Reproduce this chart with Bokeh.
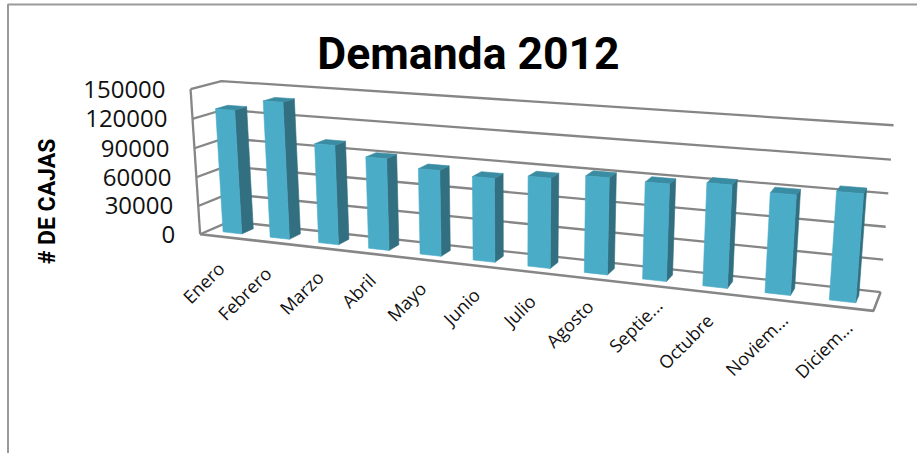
import numpy as np
from bokeh.core.properties import value
from bokeh.embed import file_html
from bokeh.models import Range1d
from bokeh.plotting import figure
from bokeh.resources import INLINE

# Monthly demand, boxes
meses = ["Enero", "Febrero", "Marzo", "Abril", "Mayo", "Junio", "Julio", "Agosto",
         "Septie...", "Octubre", "Noviem...", "Diciem..."]
cajas = [128500, 140000, 101000, 92000, 85000, 82000, 87000, 92000, 91000, 95000, 91000, 97000]
ticks = [0, 30000, 60000, 90000, 120000, 150000]
titulo = "Demanda 2012"
eje_y = "# DE CAJAS"

# Category label centres on the page
label_x = [203, 244, 301, 358, 406, 461, 519, 569, 635, 685, 756, 823]
label_y = [282, 293, 292, 290, 301, 306, 310, 323, 325, 341, 344, 349]

# Perspective camera: (category, height fraction, depth, 1) -> page pixels
CAM = np.array([
    [43.5244066, -15.1714109, 37.9917945, 199.6143064],
    [1.9088082, -147.7612944, -4.9151133, 233.787547],
    [-0.0144166, -0.0295136, 0.0363943, 1.0],
])
Y_MAX = 150000.0
BAR_W, Z_FRONT, Z_BACK = 0.4, 0.3, 0.7


def project(x, val, z):
    h = CAM @ np.array([x, val / Y_MAX, z, 1.0])
    return float(h[0] / h[2]), float(h[1] / h[2])


def path(*points):
    xy = [project(*pt) for pt in points]
    return [a for a, _ in xy], [b for _, b in xy]


p = figure(width=917, height=453, output_backend="svg", toolbar_location=None,
           x_range=Range1d(0, 917), y_range=Range1d(453, 0), min_border=0,
           background_fill_color="white", border_fill_color="white")
p.axis.visible = False
p.grid.visible = False
p.outline_line_color = None

# Chart frame, open towards the right and the bottom
p.line([7.5, 7.5, 917], [453, 4, 4], line_color="#9a9a9a", line_width=2)

# Walls and floor
GRID = "#868686"
for t in ticks:
    xs, ys = path((0, t, 0), (0, t, 1), (12, t, 1))
    p.line(xs, ys, line_color=GRID, line_width=2.3)
xs, ys = path((0, 0, 0), (0, Y_MAX, 0))
p.line(xs, ys, line_color=GRID, line_width=2.3)
xs, ys = path((0, 0, 0), (12, 0, 0), (12, 0, 1))
p.line(xs, ys, line_color=GRID, line_width=2.6)

# Bars: side, top, then the front face
faces = {"#326F81": ([], []), "#3A8CA3": ([], []), "#4BACC8": ([], [])}
for i, v in enumerate(cajas):
    a, b = i + 0.5 - BAR_W / 2, i + 0.5 + BAR_W / 2
    side = path((b, 0, Z_FRONT), (b, v, Z_FRONT), (b, v, Z_BACK), (b, 0, Z_BACK))
    top = path((a, v, Z_FRONT), (b, v, Z_FRONT), (b, v, Z_BACK), (a, v, Z_BACK))
    front = path((a, 0, Z_FRONT), (b, 0, Z_FRONT), (b, v, Z_FRONT), (a, v, Z_FRONT))
    for colour, poly in zip(faces, (side, top, front)):
        faces[colour][0].append(poly[0])
        faces[colour][1].append(poly[1])
for colour, (xs, ys) in faces.items():
    p.patches(xs, ys, fill_color=colour, line_color=colour, line_width=0.6)

# Value labels along the front edge of the left wall
tick_pos = [project(0, t, 0) for t in ticks]
p.text(x=[q[0] - 25 for q in tick_pos], y=[q[1] for q in tick_pos], text=[str(t) for t in ticks],
       text_font=value("Open Sans"), text_font_size="24px", text_color="#111111",
       text_align="right", text_baseline="middle")

# Category labels
p.text(x=label_x, y=label_y, text=meses, angle=45, angle_units="deg",
       text_font=value("Open Sans"), text_font_size="18px", text_color="#111111",
       text_align="center", text_baseline="middle")

# Title and value-axis caption
p.text(x=[468], y=[53], text=[titulo], text_font=value("Roboto"),
       text_font_size="44.5px", text_font_style="bold", text_color="#000000",
       text_align="center", text_baseline="middle")
p.text(x=[47], y=[201], text=[eje_y], angle=90, angle_units="deg",
       text_font=value("Roboto"), text_font_size="23px",
       text_font_style="bold", text_color="#000000",
       text_align="center", text_baseline="middle")

open("out.html", "w").write(file_html(p, INLINE))
